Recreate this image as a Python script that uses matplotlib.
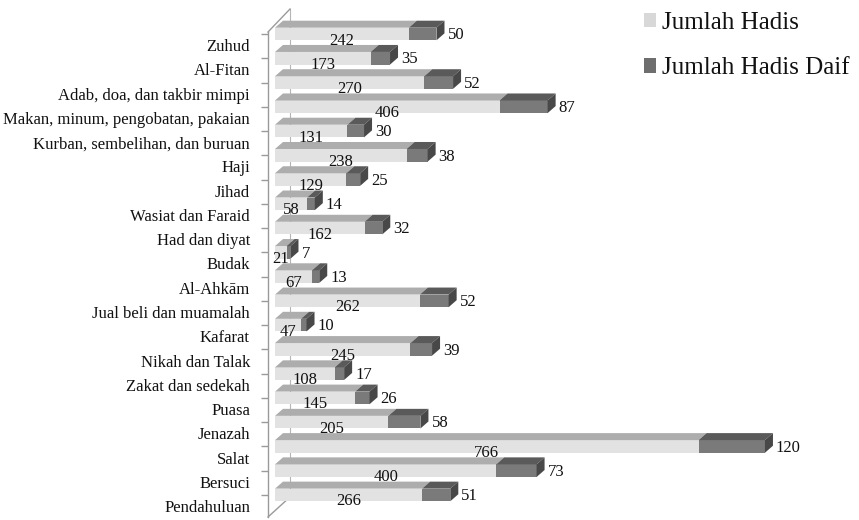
import matplotlib.pyplot as plt
from matplotlib.patches import Polygon, Patch
import numpy as np

# Data
categories = ["Zuhud", "Al-Fitan", "Adab, doa, dan takbir mimpi",
              "Makan, minum, pengobatan, pakaian", "Kurban, sembelihan, dan buruan",
              "Haji", "Jihad", "Wasiat dan Faraid", "Had dan diyat", "Budak",
              "Al-Ahkām", "Jual beli dan muamalah", "Kafarat", "Nikah dan Talak",
              "Zakat dan sedekah", "Puasa", "Jenazah", "Salat", "Bersuci", "Pendahuluan"]
jumlah_hadis = [242, 173, 270, 406, 131, 238, 129, 58, 162, 21,
                67, 262, 47, 245, 108, 145, 205, 766, 400, 266]
jumlah_daif = [50, 35, 52, 87, 30, 38, 25, 14, 32, 7,
               13, 52, 10, 39, 17, 26, 58, 120, 73, 51]

plt.rcParams['font.family'] = ['Liberation Serif', 'DejaVu Serif']

W, H = 859, 520
fig = plt.figure(figsize=(W / 100, H / 100), dpi=100)

# axes placed in pixel terms
left_px, top_px, bottom_px = 268, 4, 519
ax = fig.add_axes([left_px / W, 1 - bottom_px / H, 1 - left_px / W, (bottom_px - top_px) / H])

sx = 0.553        # pixels per hadith
row = 24.26       # pixels per category row
x0_px, y0_px = 275, 34


def px_x(p):
    return (p - x0_px) / sx


def px_y(p):
    return (p - y0_px) / row


ax.set_xlim(px_x(left_px), px_x(W))
ax.set_ylim(px_y(bottom_px), px_y(top_px))
for s in ax.spines.values():
    s.set_visible(False)

hadis = np.array(jumlah_hadis)
daif = np.array(jumlah_daif)
total = hadis + daif
y = np.arange(len(categories))

h = 0.26            # half height of front face
dx = 8 / sx         # depth offset (x)
dy = 7 / row        # depth offset (y)

light_front, light_top = '#e2e2e2', '#adadad'
dark_front, dark_top, dark_side = '#7a7a7a', '#5a5a5a', '#484848'

# frame / back wall
ax.plot([px_x(268), px_x(268)], [px_y(32), px_y(517)], color='#9a9a9a', lw=1, zorder=1, clip_on=False)
ax.plot([px_x(268), px_x(290)], [px_y(32), px_y(9)], color='#9a9a9a', lw=1, zorder=1, clip_on=False)
ax.plot([px_x(290), px_x(290)], [px_y(9), px_y(497)], color='#b5b5b5', lw=0.8, zorder=0)
ax.plot([px_x(268), px_x(290)], [px_y(517), px_y(497)], color='#9a9a9a', lw=1, zorder=1, clip_on=False)

# front faces
ax.barh(y, hadis, height=2 * h, color=light_front, zorder=3)
ax.barh(y, daif, left=hadis, height=2 * h, color=dark_front, zorder=3)

# top faces and end faces
for yi, a, t in zip(y, hadis, total):
    top = yi - h
    ax.add_patch(Polygon([(0, top), (a, top), (a + dx, top - dy), (dx, top - dy)],
                         closed=True, facecolor=light_top, edgecolor='none', zorder=3))
    ax.add_patch(Polygon([(a, top), (t, top), (t + dx, top - dy), (a + dx, top - dy)],
                         closed=True, facecolor=dark_top, edgecolor='none', zorder=3))
    ax.add_patch(Polygon([(t, top), (t + dx, top - dy), (t + dx, yi + h - dy), (t, yi + h)],
                         closed=True, facecolor=dark_side, edgecolor='none', zorder=3))

# value labels
for yi, a, d, t in zip(y, hadis, daif, total):
    ax.text(a / 2, yi + 0.27, str(a), ha='center', va='center', fontsize=12,
            color='#111111', zorder=5)
    ax.text(t + dx + 3 / sx, yi + 0.05, str(d), ha='left', va='center', fontsize=12,
            color='#111111', zorder=5)

# category labels sit between rows, tick marks on the rows
ax.set_xticks([])
ax.set_yticks(y + 0.46)
ax.set_yticklabels(categories, fontsize=12, color='#111111')
ax.tick_params(axis='y', which='major', length=0, pad=13)
ax.set_yticks(y, minor=True)
ax.tick_params(axis='y', which='minor', length=5, color='#9a9a9a', width=1)

handles = [Patch(facecolor='#d8d8d8', edgecolor='none', label='Jumlah Hadis'),
           Patch(facecolor='#6e6e6e', edgecolor='none', label='Jumlah Hadis Daif')]
fig.legend(handles=handles, loc='upper left', bbox_to_anchor=(640 / W, 0.985),
           frameon=False, fontsize=18, handlelength=0.5, handleheight=0.5,
           handletextpad=0.25, labelspacing=0.95, borderpad=0.15, borderaxespad=0,
           labelcolor='#111111')

fig.savefig('out.png', dpi=100)
